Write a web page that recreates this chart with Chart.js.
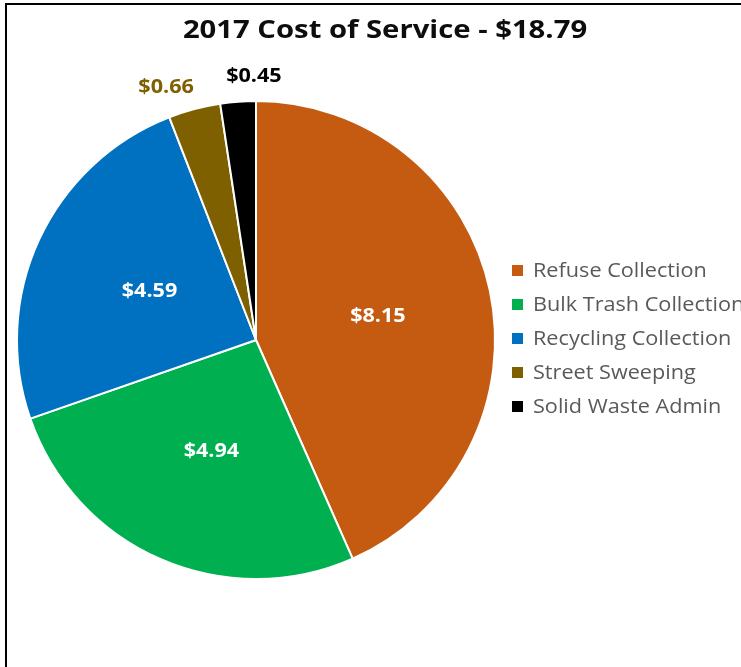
<!DOCTYPE html>
<html>
<head>
<meta charset="utf-8">
<script src="https://cdn.jsdelivr.net/npm/chart.js@4.4.0/dist/chart.umd.min.js"></script>
<style>
  html, body { margin: 0; padding: 0; background: #fff; }
  #wrap { position: relative; width: 741px; height: 667px; overflow: hidden; }
  #frame { position: absolute; left: 5px; top: 3px; width: 900px; height: 900px;
           border-left: 2px solid #000; border-top: 2px solid #000; }
  #pieChart { position: absolute; left: 0; top: 0; }
</style>
</head>
<body>
<div id="wrap">
  <div id="frame"></div>
  <canvas id="pieChart" width="741" height="667"></canvas>
</div>
<script>
// data
const chartTitle = '2017 Cost of Service - $18.79';
const categories = ['Refuse Collection', 'Bulk Trash Collection', 'Recycling Collection', 'Street Sweeping', 'Solid Waste Admin'];
const costs = [8.15, 4.94, 4.59, 0.66, 0.45];
const sliceColors = ['#C55A11', '#00B050', '#0070C0', '#7F6000', '#000000'];

const FONT = '"Open Sans", Lato, sans-serif';

// the original uses a wide font (Calibri-ish), so stretch the text a little
function wideText(ctx, text, x, y, sx) {
  ctx.save();
  ctx.translate(x, y);
  ctx.scale(sx, 1);
  ctx.fillText(text, 0, 0);
  ctx.restore();
}

// title drawn centred over the whole picture, not the pie
const titlePlugin = {
  id: 'bigTitle',
  afterDraw(chart) {
    const ctx = chart.ctx;
    ctx.save();
    ctx.font = 'bold 25px ' + FONT;
    ctx.fillStyle = '#0d0d0d';
    ctx.textAlign = 'center';
    ctx.textBaseline = 'middle';
    wideText(ctx, chartTitle, 385, 31, 1.17);
    ctx.restore();
  }
};

// value labels: inside for big slices, outside end for the thin ones
const valueLabels = {
  id: 'valueLabels',
  afterDatasetsDraw(chart, args, opts) {
    const ctx = chart.ctx;
    const meta = chart.getDatasetMeta(0);
    const total = costs.reduce((a, b) => a + b, 0);
    ctx.save();
    ctx.font = 'bold 20px ' + FONT;
    ctx.textAlign = 'center';
    ctx.textBaseline = 'middle';
    meta.data.forEach((arc, i) => {
      const text = '$' + costs[i].toFixed(2);
      const nudge = opts.nudge[i] || [0, 0];
      if (costs[i] / total > 0.1) {
        const p = arc.tooltipPosition();
        ctx.fillStyle = '#ffffff';
        wideText(ctx, text, p.x + nudge[0], p.y + nudge[1], 1.08);
      } else {
        const { x, y, startAngle, endAngle, outerRadius } = arc.getProps(['x', 'y', 'startAngle', 'endAngle', 'outerRadius'], true);
        const mid = (startAngle + endAngle) / 2;
        const r = outerRadius + 28;
        ctx.fillStyle = sliceColors[i];
        wideText(ctx, text, x + Math.cos(mid) * r + nudge[0], y + Math.sin(mid) * r + nudge[1], 1.08);
      }
    });
    ctx.restore();
  }
};

// legend at the right, runs off the edge like the original
const sideLegend = {
  id: 'sideLegend',
  afterDraw(chart) {
    const ctx = chart.ctx;
    const labels = chart.data.labels;
    const colors = chart.data.datasets[0].backgroundColor;
    ctx.save();
    ctx.font = '19.5px ' + FONT;
    ctx.textBaseline = 'middle';
    labels.forEach((lab, i) => {
      const yy = 271 + i * 34;
      ctx.fillStyle = colors[i];
      ctx.fillRect(512, yy - 6, 11, 11);
      ctx.fillStyle = '#595959';
      wideText(ctx, lab, 533, yy, 1.11);
    });
    ctx.restore();
  }
};

const pieCtx = document.getElementById('pieChart').getContext('2d');
new Chart(pieCtx, {
  type: 'pie',
  data: {
    labels: categories,
    datasets: [{
      data: costs,
      backgroundColor: sliceColors,
      borderColor: '#ffffff',
      borderWidth: 2
    }]
  },
  options: {
    responsive: false,
    animation: false,
    layout: {
      padding: { left: 16, right: 245, top: 100, bottom: 87 }
    },
    plugins: {
      legend: { display: false },
      tooltip: { enabled: false },
      valueLabels: { nudge: { 0: [5, 1], 1: [3, 2], 2: [2, 1], 3: [-21, 5], 4: [18, 3] } }
    }
  },
  plugins: [titlePlugin, valueLabels, sideLegend]
});
</script>
</body>
</html>
